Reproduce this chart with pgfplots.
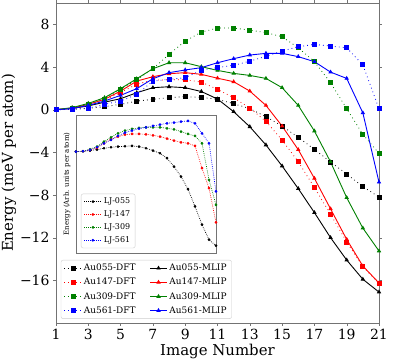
\documentclass[border=0pt]{standalone}
\usepackage{fontspec}
\setmainfont{DejaVu Serif}
\usepackage{pgfplots}
\pgfplotsset{compat=1.18}
\usetikzlibrary{calc}

\definecolor{mgreen}{RGB}{0,128,0}
\definecolor{mblue}{RGB}{0,0,255}
\definecolor{mred}{RGB}{255,0,0}

\pgfplotsset{
  dft/.style={#1, line width=0.8pt, dash pattern=on 0.8pt off 3.2pt,
    mark=square*, mark size=2pt, mark options={solid, fill=#1}},
  mlip/.style={#1, line width=0.9pt, mark=triangle*, mark size=1.7pt,
    mark options={solid, fill=#1}},
  lj/.style={#1, line width=0.7pt, dash pattern=on 0.7pt off 1.2pt,
    mark=*, mark size=1pt, mark options={solid, fill=#1}},
}

\begin{document}
\begin{tikzpicture}
\begin{axis}[
  name=main,
  scale only axis,
  width=323bp, height=320bp,
  xmin=1, xmax=21, ymin=-20, ymax=10,
  xtick={1,3,...,21},
  ytick={-16,-12,-8,-4,0,4,8},
  yticklabels={−16,−12,−8,−4,0,4,8},
  tick align=outside,
  major tick length=3pt,
  tick style={black!55},
  axis line style={black!55},
  /pgf/number format/assume math mode=true,
  tick label style={font=\fontsize{14}{14}\selectfont},
  label style={font=\fontsize{15}{15}\selectfont},
  xlabel={Image Number},
  ylabel={Energy (meV per atom)},
  xlabel style={yshift=3bp},
  ylabel style={yshift=-3bp},
  legend columns=2,
  legend cell align=left,
  legend style={at={(rel axis cs:0.015,0.013)}, anchor=south west,
    font=\fontsize{9}{11}\selectfont, draw=black!20, rounded corners=2pt,
    fill=white, row sep=2pt,
    /tikz/every even column/.append style={column sep=12pt}},
]
\addplot[dft=black] coordinates {(1,0) (2,0.03) (3,0.12) (4,0.28) (5,0.5) (6,0.8) (7,0.97) (8,1.12) (9,1.22) (10,1.15) (11,0.97) (12,0.56) (13,0.1) (14,-0.66) (15,-1.54) (16,-2.6) (17,-3.72) (18,-4.9) (19,-6.05) (20,-7.2) (21,-8.2)};
\addplot[mlip=black] coordinates {(1,0) (2,0.12) (3,0.35) (4,0.7) (5,1.03) (6,1.59) (7,2.06) (8,2.15) (9,2.06) (10,1.7) (11,1.0) (12,-0.19) (13,-1.6) (14,-3.31) (15,-5.28) (16,-7.4) (17,-9.65) (18,-12.0) (19,-14.1) (20,-15.9) (21,-17.1)};
\addplot[dft=mred] coordinates {(1,0) (2,0.08) (3,0.35) (4,0.9) (5,1.6) (6,2.4) (7,2.77) (8,2.8) (9,2.8) (10,2.59) (11,1.9) (12,1.12) (13,0.15) (14,-1.1) (15,-2.85) (16,-4.88) (17,-7.3) (18,-9.8) (19,-12.4) (20,-14.7) (21,-16.3)};
\addplot[mlip=mred] coordinates {(1,0) (2,0.15) (3,0.5) (4,0.97) (5,1.74) (6,2.68) (7,3.09) (8,3.37) (9,3.47) (10,3.31) (11,2.95) (12,2.62) (13,1.74) (14,0.4) (15,-1.54) (16,-3.75) (17,-6.44) (18,-9.3) (19,-12.16) (20,-14.66) (21,-16.25)};
\addplot[dft=mgreen] coordinates {(1,0) (2,0.1) (3,0.5) (4,1.0) (5,1.9) (6,2.8) (7,3.84) (8,5.18) (9,6.43) (10,7.27) (11,7.65) (12,7.65) (13,7.46) (14,7.22) (15,6.84) (16,5.8) (17,4.5) (18,2.53) (19,0.09) (20,-2.32) (21,-4.1)};
\addplot[mlip=mgreen] coordinates {(1,0) (2,0.19) (3,0.59) (4,1.12) (5,1.97) (6,2.9) (7,3.84) (8,4.4) (9,4.4) (10,4.03) (11,3.68) (12,3.4) (13,3.21) (14,2.93) (15,2.06) (16,0.4) (17,-2.0) (18,-4.9) (19,-8.25) (20,-11.1) (21,-13.25)};
\addplot[dft=mblue] coordinates {(1,0) (2,0.02) (3,0.15) (4,0.5) (5,0.81) (6,1.43) (7,2.68) (8,2.84) (9,3.0) (10,3.7) (11,3.95) (12,4.15) (13,4.55) (14,5.0) (15,5.5) (16,5.9) (17,6.12) (18,5.96) (19,5.8) (20,4.2) (21,0.09)};
\addplot[mlip=mblue] coordinates {(1,0) (2,0.1) (3,0.4) (4,0.81) (5,1.34) (6,1.97) (7,2.9) (8,3.47) (9,3.72) (10,3.94) (11,4.4) (12,4.78) (13,5.12) (14,5.28) (15,5.28) (16,4.97) (17,4.5) (18,3.52) (19,2.93) (20,-0.3) (21,-6.8)};
\legend{Au055-DFT,Au055-MLIP,Au147-DFT,Au147-MLIP,Au309-DFT,Au309-MLIP,Au561-DFT,Au561-MLIP}
\end{axis}

\begin{axis}[
  name=inset,
  at={(main.south west)}, anchor=south west,
  xshift=20bp, yshift=70bp,
  scale only axis,
  width=140bp, height=138bp,
  xmin=1, xmax=21, ymin=0, ymax=41.5,
  xtick=\empty, ytick=\empty,
  axis line style={black!55},
  axis background/.style={fill=white},
  ylabel={Energy (Arb. units per atom)},
  ylabel style={font=\fontsize{7}{7}\selectfont, at={(rel axis cs:-0.015,0.5)}, anchor=south},
  clip=false,
  legend cell align=left,
  legend style={at={(rel axis cs:0.035,0.035)}, anchor=south west,
    font=\fontsize{8}{9.5}\selectfont, draw=black!20, rounded corners=2pt,
    fill=white, row sep=1.5pt},
]
\addplot[lj=black] coordinates {(1,30.5) (2,30.6) (3,30.8) (4,31.1) (5,31.5) (6,31.8) (7,32.0) (8,32.1) (9,32.2) (10,32.0) (11,31.5) (12,30.8) (13,30.0) (14,28.5) (15,26.0) (16,23.0) (17,19.2) (18,14.0) (19,8.5) (20,4.0) (21,2.2)};
\addplot[lj=mred] coordinates {(1,30.5) (2,30.6) (3,31.0) (4,31.6) (5,33.0) (6,34.2) (7,35.0) (8,35.6) (9,35.8) (10,35.8) (11,35.7) (12,35.4) (13,35.0) (14,34.4) (15,33.8) (16,33.3) (17,33.0) (18,32.2) (19,25.5) (20,19.5) (21,9.2)};
\addplot[lj=mgreen] coordinates {(1,30.5) (2,30.6) (3,31.2) (4,32.0) (5,33.5) (6,34.8) (7,36.0) (8,36.8) (9,37.3) (10,37.6) (11,37.8) (12,37.8) (13,37.8) (14,37.5) (15,37.2) (16,36.5) (17,35.8) (18,35.2) (19,33.0) (20,22.0) (21,14.5)};
\addplot[lj=mblue] coordinates {(1,30.5) (2,30.6) (3,31.0) (4,31.8) (5,33.0) (6,34.0) (7,35.2) (8,36.2) (9,36.8) (10,37.4) (11,37.8) (12,38.2) (13,38.6) (14,39.0) (15,39.2) (16,39.5) (17,39.7) (18,39.0) (19,36.0) (20,33.0) (21,18.5)};
\legend{LJ-055,LJ-147,LJ-309,LJ-561}
\end{axis}

\pgfresetboundingbox
\path[use as bounding box] ($(main.south west)+(-56bp,-40bp)$) rectangle ($(main.north east)+(14bp,3bp)$);
\end{tikzpicture}
\end{document}
